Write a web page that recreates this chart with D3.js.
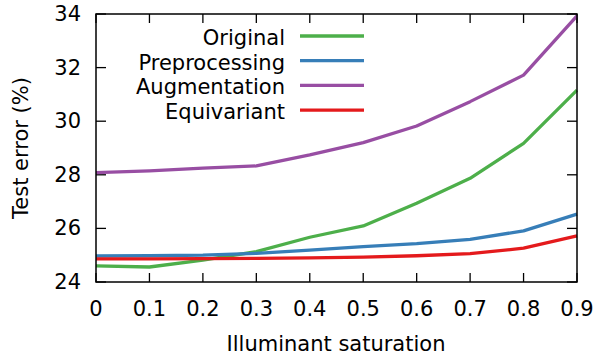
<!DOCTYPE html>
<html>
<head>
<meta charset="UTF-8">
<title>Test error vs illuminant saturation</title>
<script src="https://cdn.jsdelivr.net/npm/d3@7"></script>
<style>
  body { margin: 0; background: #fff; }
  text { font-family: "DejaVu Sans", sans-serif; fill: #000; }
</style>
</head>
<body>
<svg id="svg" width="600" height="356"></svg>
<script>
    // data
    const saturation = [0, 0.1, 0.2, 0.3, 0.4, 0.5, 0.6, 0.7, 0.8, 0.9];
    const original      = [24.60, 24.56, 24.82, 25.13, 25.67, 26.09, 26.94, 27.87, 29.17, 31.16];
    const preprocessing = [24.97, 24.98, 25.00, 25.07, 25.19, 25.32, 25.43, 25.59, 25.91, 26.53];
    const augmentation  = [28.08, 28.15, 28.25, 28.33, 28.74, 29.20, 29.82, 30.73, 31.72, 33.93];
    const equivariant   = [24.86, 24.86, 24.87, 24.88, 24.90, 24.93, 24.98, 25.06, 25.26, 25.72];
    const seriesNames = ["Original", "Preprocessing", "Augmentation", "Equivariant"];
    const seriesColors = ["#4daf4a", "#377eb8", "#984ea3", "#e41a1c"];
    const xTicks = [0, 0.1, 0.2, 0.3, 0.4, 0.5, 0.6, 0.7, 0.8, 0.9];
    const yTicks = [24, 26, 28, 30, 32, 34];

    const series = [original, preprocessing, augmentation, equivariant];

    const svg = d3.select("#svg");
    const mLeft = 96, mRight = 577, mTop = 14, mBottom = 282;

    const x = d3.scaleLinear().domain([0, 0.9]).range([mLeft, mRight]);
    const y = d3.scaleLinear().domain([24, 34]).range([mBottom, mTop]);

    const fontSize = 21;

    // tick marks (inward, mirrored)
    const ticks = svg.append("g").attr("stroke", "#000").attr("stroke-width", 1.3);
    xTicks.forEach(t => {
        ticks.append("line").attr("x1", x(t)).attr("x2", x(t)).attr("y1", mBottom).attr("y2", mBottom - 9);
        ticks.append("line").attr("x1", x(t)).attr("x2", x(t)).attr("y1", mTop).attr("y2", mTop + 9);
    });
    yTicks.forEach(t => {
        ticks.append("line").attr("x1", mLeft).attr("x2", mLeft + 10).attr("y1", y(t)).attr("y2", y(t));
        ticks.append("line").attr("x1", mRight).attr("x2", mRight - 10).attr("y1", y(t)).attr("y2", y(t));
    });

    // tick labels
    svg.append("g").selectAll("text").data(xTicks).enter().append("text")
        .attr("x", d => x(d)).attr("y", 316)
        .attr("text-anchor", "middle").attr("font-size", fontSize)
        .text(d => d3.format("")(d));
    svg.append("g").selectAll("text").data(yTicks).enter().append("text")
        .attr("x", 81).attr("y", d => y(d) + 7)
        .attr("text-anchor", "end").attr("font-size", fontSize)
        .text(d => d);

    // axis titles
    svg.append("text").attr("x", 336).attr("y", 351)
        .attr("text-anchor", "middle").attr("font-size", fontSize)
        .text("Illuminant saturation");
    svg.append("text").attr("transform", "translate(28," + ((mTop + mBottom) / 2) + ") rotate(-90)")
        .attr("text-anchor", "middle").attr("font-size", fontSize)
        .text("Test error (%)");

    // lines
    const line = d3.line().x((d, i) => x(saturation[i])).y(d => y(d));
    svg.append("g").selectAll("path").data(series).enter().append("path")
        .attr("d", d => line(d))
        .attr("fill", "none")
        .attr("stroke", (d, i) => seriesColors[i])
        .attr("stroke-width", 3.3)
        .attr("stroke-linejoin", "round");

    // legend
    const legend = svg.append("g");
    seriesNames.forEach((name, i) => {
        const ly = 36 + i * 24.7;
        legend.append("text").attr("x", 285).attr("y", ly + 9)
            .attr("text-anchor", "end").attr("font-size", fontSize).text(name);
        legend.append("line").attr("x1", 300).attr("x2", 364).attr("y1", ly).attr("y2", ly)
            .attr("stroke", seriesColors[i]).attr("stroke-width", 3.3);
    });

    // border
    svg.append("rect").attr("x", mLeft).attr("y", mTop)
        .attr("width", mRight - mLeft).attr("height", mBottom - mTop)
        .attr("fill", "none").attr("stroke", "#000").attr("stroke-width", 1.5);
</script>
</body>
</html>
